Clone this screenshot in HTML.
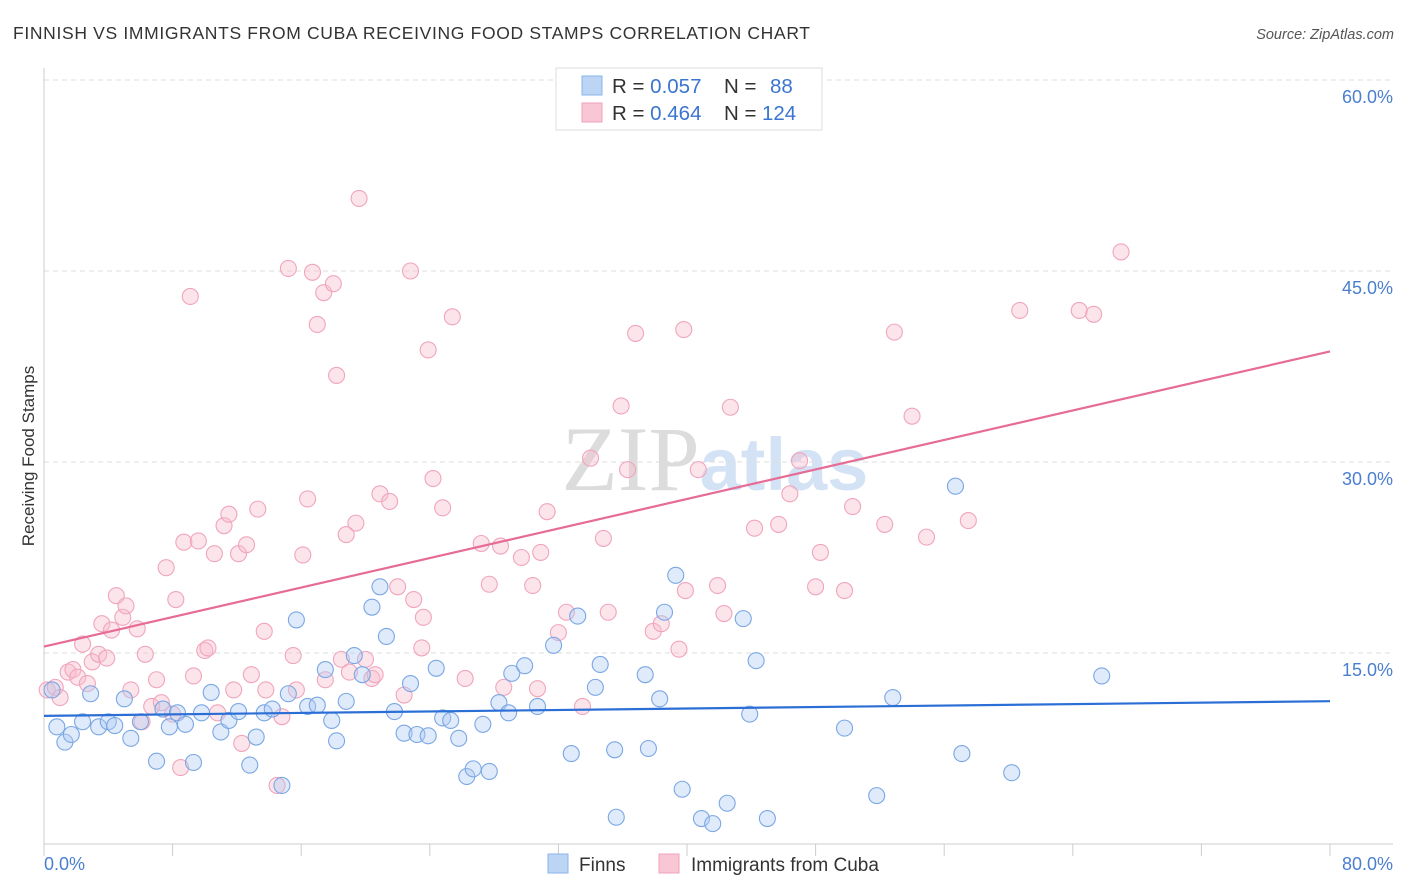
<!DOCTYPE html>
<html><head><meta charset="utf-8"><style>
body{margin:0;background:#fff;font-family:"Liberation Sans",sans-serif;}
svg{display:block}
</style></head><body>
<svg id="chart" width="1406" height="892" xmlns="http://www.w3.org/2000/svg">
<text x="13" y="39" font-size="17.5" fill="#333" textLength="797" lengthAdjust="spacing">FINNISH VS IMMIGRANTS FROM CUBA RECEIVING FOOD STAMPS CORRELATION CHART</text>
<text x="1394" y="39" font-size="14.5" fill="#555" font-style="italic" text-anchor="end">Source: ZipAtlas.com</text>
<text transform="translate(34,456) rotate(-90)" font-size="17" fill="#333" text-anchor="middle">Receiving Food Stamps</text>
<g font-size="92" text-anchor="middle"><text x="715" y="490"><tspan fill="#dcdcdc" font-family="Liberation Serif,serif">ZIP</tspan><tspan fill="#d3e3f5" font-weight="bold" font-size="74">atlas</tspan></text></g>
<g id="grid"></g><g id="axes"></g><g id="pts"></g><g id="lines"></g>
<g>
<rect x="556" y="68" width="266" height="62" fill="#fff" stroke="#ddd"/>
<rect x="582" y="76" width="20" height="19" fill="#bcd5f5" stroke="#8ab4ea"/>
<rect x="582" y="103" width="20" height="19" fill="#f9c6d5" stroke="#f0a3bb"/>
<text x="612" y="93" font-size="20.5" fill="#333">R = <tspan fill="#3a75cf">0.057</tspan><tspan x="724">N = </tspan><tspan x="770" fill="#3a75cf">88</tspan></text>
<text x="612" y="120" font-size="20.5" fill="#333">R = <tspan fill="#3a75cf">0.464</tspan><tspan x="724">N = </tspan><tspan x="762" fill="#3a75cf">124</tspan></text>
</g>
<g>
<rect x="548" y="854" width="20" height="19" fill="#bcd5f5" stroke="#8ab4ea"/>
<text x="579" y="871" font-size="19" fill="#333">Finns</text>
<rect x="659" y="854" width="20" height="19" fill="#f9c6d5" stroke="#f0a3bb"/>
<text x="691" y="871" font-size="19" fill="#333">Immigrants from Cuba</text>
</g>
</svg>
<script>
const yTicks=[15,30,45,60];
const yTickLabels=["15.0%","30.0%","45.0%","60.0%"];
const xTicks=[0,8,16,24,32,40,48,56,64,72,80];
const finnsX=[0.5,0.8,1.3,1.7,2.9,2.4,3.4,4.0,4.4,5.0,5.4,6.0,7.0,7.4,7.8,8.3,8.8,9.3,9.8,10.4,11.0,11.5,12.1,12.8,13.2,13.7,14.2,14.8,15.2,15.7,16.4,17.0,17.5,17.9,18.2,18.8,19.3,19.8,20.4,20.9,21.3,21.8,22.4,22.8,23.2,23.9,24.4,24.8,25.3,25.8,26.3,26.7,27.3,27.7,28.3,28.9,29.1,29.9,30.7,31.7,32.8,33.2,34.3,34.6,35.6,35.5,37.4,37.6,38.3,38.6,39.3,39.7,40.9,41.6,42.5,43.5,43.9,44.3,45.0,49.8,51.8,52.8,56.7,57.1,60.2,65.8];
const finnsY=[12.1,9.2,8.0,8.6,11.8,9.6,9.2,9.6,9.3,11.4,8.3,9.6,6.5,10.6,9.2,10.3,9.4,6.4,10.3,11.9,8.8,9.7,10.4,6.2,8.4,10.3,10.6,4.6,11.8,17.6,10.8,10.9,13.7,9.7,8.1,11.2,14.8,13.3,18.6,20.2,16.3,10.4,8.7,12.6,8.6,8.5,13.8,9.9,9.7,8.3,5.3,5.9,9.4,5.7,11.1,10.3,13.4,14.0,10.8,15.6,7.1,17.9,12.3,14.1,2.1,7.4,13.3,7.5,11.4,18.2,21.1,4.3,2.0,1.6,3.2,17.7,10.2,14.4,2.0,9.1,3.8,11.5,28.1,7.1,5.6,13.2];
const cubaX=[0.2,0.7,1.0,1.5,1.8,2.1,2.4,2.7,3.0,3.4,3.6,3.9,4.2,4.5,4.9,5.1,5.4,5.8,6.1,6.3,6.7,7.0,7.3,7.6,8.0,8.2,8.5,8.7,9.1,9.3,9.6,10.0,10.2,10.6,10.8,11.2,11.5,11.8,12.1,12.3,12.6,12.9,13.3,13.7,13.8,14.5,14.8,15.2,15.5,15.7,16.1,16.4,16.7,17.0,17.4,17.5,18.0,18.2,18.5,18.8,19.0,19.4,19.6,20.0,20.4,20.6,20.9,21.5,22.0,22.4,22.8,23.0,23.5,23.6,23.9,24.2,24.8,25.4,26.2,27.2,27.7,28.4,28.6,29.7,30.4,30.7,30.9,31.3,32.0,32.5,33.5,34.0,34.8,35.1,35.9,36.3,36.8,37.9,38.4,39.5,39.8,39.9,40.7,41.9,42.3,42.7,44.2,45.7,46.4,47.0,48.0,48.3,49.8,50.3,52.3,52.9,54.0,54.9,57.5,60.7,64.4,65.3,67.0];
const cubaY=[12.1,12.3,11.5,13.5,13.7,13.1,15.7,12.6,14.3,14.9,17.3,14.6,16.8,19.5,17.8,18.7,12.1,16.9,9.6,14.9,10.8,12.9,11.1,21.7,10.2,19.2,6.0,23.7,43.0,13.2,23.8,15.2,15.4,22.8,10.3,25.0,25.9,12.1,22.8,7.9,23.5,13.3,26.3,16.7,12.1,4.6,10.0,45.2,14.8,12.1,22.7,27.1,44.9,40.8,43.3,12.9,44.0,36.8,14.5,24.3,13.5,25.2,50.7,14.5,13.0,13.3,27.5,26.9,20.2,11.7,45.0,19.2,15.4,17.8,38.8,28.7,26.4,41.4,13.0,23.6,20.4,23.4,12.3,22.5,20.3,12.2,22.9,26.1,16.6,18.2,10.8,30.3,24.0,18.2,34.4,29.4,40.1,16.7,17.3,15.3,40.4,19.9,29.4,20.3,18.1,34.3,24.8,25.1,27.5,30.1,20.2,22.9,19.9,26.5,25.1,40.2,33.6,24.1,25.4,41.9,41.9,41.6,46.5];

const NS="http://www.w3.org/2000/svg";
const L=44,R=1330,T=80,B=844;
const sx=v=>L+(v/80)*(R-L);
const sy=v=>B-(v/60)*(B-T);
function mk(tag,attrs,parent){const e=document.createElementNS(NS,tag);for(const k in attrs)e.setAttribute(k,attrs[k]);document.getElementById(parent).appendChild(e);return e;}
yTicks.forEach((t,i)=>{
  const g=mk('line',{x1:L,x2:1393,y1:sy(t),y2:sy(t),stroke:'#ddd','stroke-dasharray':'5,4'},'grid');
  
  
  const tx=mk('text',{x:1393,y:sy(t)+23,'font-size':18,fill:'#4a7fd0','text-anchor':'end'},'grid');
  tx.textContent=yTickLabels[i];
  
  
});
let a=mk('line',{x1:L,x2:1393,y1:B,y2:B,stroke:'#ccc'},'axes');


a=mk('line',{x1:L,x2:L,y1:68,y2:B,stroke:'#ccc'},'axes');


xTicks.forEach(t=>{
  const e=mk('line',{x1:sx(t),x2:sx(t),y1:B,y2:B+12,stroke:'#ccc'},'axes');
  
  
});
let xl=mk('text',{x:44,y:870,'font-size':18,fill:'#4a7fd0'},'axes');xl.textContent='0.0%';


xl=mk('text',{x:1393,y:870,'font-size':18,fill:'#4a7fd0','text-anchor':'end'},'axes');xl.textContent='80.0%';


function pts(X,Y,fill,stroke,name){
  X.forEach((x,i)=>{
    const c=mk('circle',{cx:sx(x),cy:sy(Y[i]),r:8,fill:fill,'fill-opacity':0.4,stroke:stroke,'stroke-width':1.1},'pts');
    
    
  });
}
pts(cubaX,cubaY,'#f7bccd','#f0a5bd','cuba-point');
pts(finnsX,finnsY,'#aecbf2','#7aa7e4','finns-point');
function fit(X,Y){const n=X.length;let mx=0,my=0;X.forEach((x,i)=>{mx+=x;my+=Y[i]});mx/=n;my/=n;let sxy=0,sxx=0;X.forEach((x,i)=>{sxy+=(x-mx)*(Y[i]-my);sxx+=(x-mx)*(x-mx)});const b=sxy/sxx;return [my-b*mx,b];}
function tl(X,Y,col,name){const [a0,b]=fit(X,Y);const l=mk('line',{x1:sx(0),y1:sy(a0),x2:sx(80),y2:sy(a0+b*80),stroke:col,'stroke-width':2.2},'lines');
  
  }
tl(finnsX,finnsY,'#2b6fd6','finns-trendline');
tl(cubaX,cubaY,'#e66b95','cuba-trendline');
</script>
</body></html>
